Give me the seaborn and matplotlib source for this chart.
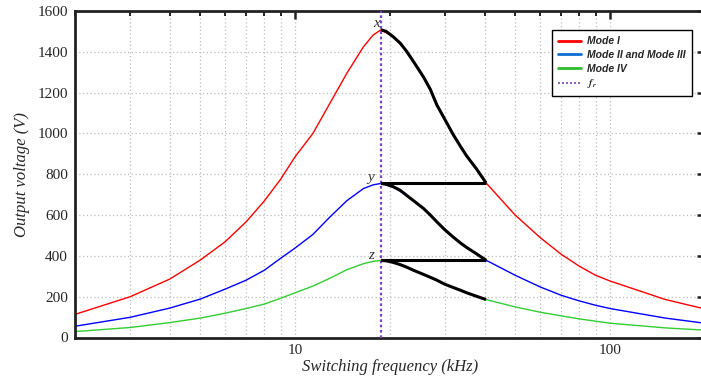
import numpy as np
import pandas as pd
import matplotlib
matplotlib.use('Agg')
import matplotlib.pyplot as plt
import seaborn as sns
from matplotlib.lines import Line2D
from matplotlib.ticker import LogLocator, NullFormatter, FixedLocator, FuncFormatter

# switching frequency (kHz) and output voltage (V)
freq = [2, 3, 4, 5, 6, 7, 8, 9, 10, 11.4, 12.9, 14.6, 16.5, 17.7, 18.75, 20.5, 22.6,
        25.6, 28.5, 32, 35.1, 40.4, 50, 60, 70, 80, 90, 100, 150, 200]
mode_1 = [113, 200, 286, 379, 469, 567, 670, 775, 885, 1000, 1147, 1294, 1425, 1482, 1508,
          1474, 1403, 1276, 1130, 990, 889, 758, 600, 490, 408, 349, 305, 277, 186, 140]
mode_2_3 = [55, 99, 144, 188, 237, 281, 330, 388, 438, 505, 590, 670, 730, 748, 755,
            739, 697, 632, 560, 489, 441, 379, 305, 248, 207, 179, 158, 142, 95, 70]
mode_4 = [29, 49, 73, 95, 119, 142, 164, 192, 219, 252, 290, 332, 362, 373, 378,
          368, 345, 309, 278, 243, 219, 186, 150, 124, 106, 91, 80, 70, 47, 36]

f_r = 18.75

# black highlighted segments (fr -> 40 kHz)
seg_freq = [18.75, 19.48, 20.5, 21.6, 22.6, 23.9, 25.6, 26.9, 28.2, 29.8, 31.8, 33.6, 35.1, 37.7, 40.4]
seg_x = [1508, 1500, 1474, 1442, 1403, 1347, 1276, 1216, 1140, 1073, 994, 934, 889, 826, 758]
seg_y = [755, 751, 739, 721, 697, 668, 632, 600, 567, 530, 492, 462, 441, 410, 379]
seg_z = [378, 376, 368, 357, 345, 328, 309, 295, 281, 262, 245, 231, 219, 202, 186]
flat_freq = [18.75, 40.4]
flat_y = [758, 758]
flat_z = [379, 379]

sns.set_style('white')
plt.rcParams['font.family'] = ['Liberation Serif', 'DejaVu Serif']
plt.rcParams['mathtext.fontset'] = 'stix'

fig = plt.figure(figsize=(7.01, 3.77), dpi=100)
ax = fig.add_axes([74.8 / 701, 1 - 337.5 / 377, 630 / 701, 326.5 / 377])

df = pd.DataFrame({'f': freq, 'm1': mode_1, 'm23': mode_2_3, 'm4': mode_4})
sns.lineplot(data=df, x='f', y='m1', color='#ff0000', lw=1.0, ax=ax)
sns.lineplot(data=df, x='f', y='m23', color='#0000ff', lw=1.0, ax=ax)
sns.lineplot(data=df, x='f', y='m4', color='#33cc33', lw=1.0, ax=ax)

ax.axvline(f_r, color='#7a44c0', ls=(0, (1.2, 1.2)), lw=1.6, zorder=3)

for fx, vy in [(seg_freq, seg_x), (seg_freq, seg_y), (seg_freq, seg_z),
               (flat_freq, flat_y), (flat_freq, flat_z)]:
    ax.plot(fx, vy, color='black', lw=2.2, solid_capstyle='butt', solid_joinstyle='round', zorder=4)

ax.set_xscale('log')
ax.set_xlim(2, 200)
ax.set_ylim(0, 1600)
ax.yaxis.set_major_locator(FixedLocator(np.arange(0, 1601, 200)))
ax.xaxis.set_major_locator(LogLocator(base=10))
ax.xaxis.set_minor_locator(LogLocator(base=10, subs=np.arange(2, 10)))
ax.xaxis.set_minor_formatter(NullFormatter())
ax.xaxis.set_major_formatter(FuncFormatter(lambda v, p: f'{v:g}'))

ax.grid(which='both', axis='x', ls=(0, (1, 2)), color='#bdbdbd', lw=0.9)
ax.grid(which='major', axis='y', ls=(0, (1, 2)), color='#bdbdbd', lw=0.9)
for s in ax.spines.values():
    s.set_linewidth(2)
    s.set_color('#222222')
ax.tick_params(which='both', direction='in', top=True, right=True, color='#222222')
ax.tick_params(which='major', length=6, width=1.8, labelsize=11, pad=5)
ax.tick_params(which='minor', length=3.5, width=1.4)

ax.set_xlabel('Switching frequency (kHz)', fontsize=12, style='italic', labelpad=1)
ax.set_ylabel('Output voltage (V)', fontsize=12, style='italic', labelpad=5)

for lbl, fx, vy in [('x', 18.1, 1540), ('y', 17.4, 786), ('z', 17.5, 401)]:
    ax.text(fx, vy, lbl, fontsize=11, style='italic', ha='center', va='center', color='#333333')

handles = [Line2D([], [], color='#ff0000', lw=2),
           Line2D([], [], color='#0a6ed1', lw=2),
           Line2D([], [], color='#2ebd2e', lw=2),
           Line2D([], [], color='#7a44c0', lw=1.2, ls=(0, (1.2, 1.2)))]
labels = ['Mode I', 'Mode II and Mode III', 'Mode IV', '$\\mathbfit{f}_{\\mathbfit{r}}$']
leg = ax.legend(handles, labels, loc='upper right', bbox_to_anchor=(692 / 701, 1 - 30 / 377),
                bbox_transform=fig.transFigure, borderaxespad=0, fancybox=False, framealpha=1,
                edgecolor='black', handlelength=2.2, handletextpad=0.6, borderpad=0.6,
                labelspacing=0.35, prop={'family': 'Liberation Sans', 'weight': 'bold',
                                         'style': 'italic', 'size': 7.5})
leg.get_frame().set_linewidth(1.0)

fig.savefig('out.png', dpi=100)
